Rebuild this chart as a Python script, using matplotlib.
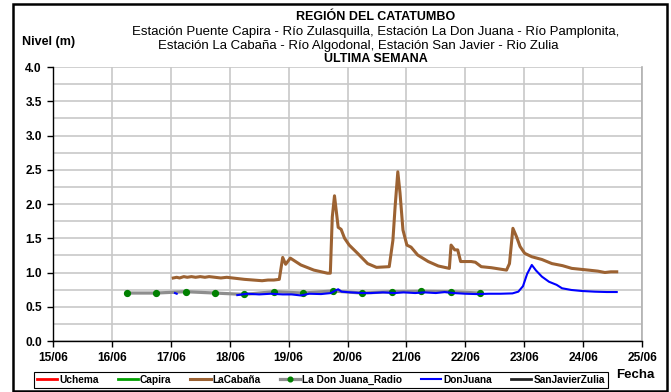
import numpy as np
import matplotlib
matplotlib.use("Agg")
import matplotlib.pyplot as plt
from matplotlib.patches import Rectangle

plt.rcParams['font.family'] = ['Liberation Sans', 'DejaVu Sans']

# Reference start of the week shown on the axis
BASE = np.datetime64('2024-06-15T00:00')

# Hours since 15/06 00:00 and level readings (m)
cabana_hours = [49, 50.4, 51.6, 53.3, 54.7, 56.4, 58.1, 60, 61.9, 63.6, 66, 68.4,
                70.8, 73.2, 75.6, 78, 81.6, 85.2, 87.6, 90, 92.2, 93.6, 94.8, 96.7,
                101, 106.3, 111.8, 113, 113.8, 114.7, 116.2, 117.4, 118.8, 120.7,
                124.1, 128.2, 131.8, 137, 138.5, 139.4, 140.5, 141.4, 142.6, 144.2,
                145.9, 148.6, 152.9, 157, 161.5, 162.2, 163.7, 164.9, 166.1, 170.4,
                172.1, 174.5, 178.6, 184.8, 186, 187.4, 188.9, 190.3, 192.2, 195.1,
                199.2, 203.3, 207.6, 211.4, 218.2, 222, 224.9, 227.3, 229.7]
cabana_level = [0.92, 0.93, 0.92, 0.94, 0.93, 0.94, 0.93, 0.94, 0.93, 0.94, 0.93, 0.92,
                0.93, 0.92, 0.91, 0.90, 0.89, 0.88, 0.89, 0.89, 0.90, 1.22, 1.12, 1.21,
                1.11, 1.035, 0.99, 0.99, 1.81, 2.12, 1.66, 1.63, 1.50, 1.40,
                1.28, 1.13, 1.075, 1.085, 1.47, 1.96, 2.47, 2.16, 1.62, 1.40,
                1.37, 1.255, 1.16, 1.095, 1.06, 1.40, 1.33, 1.33, 1.16, 1.16,
                1.15, 1.085, 1.07, 1.035, 1.13, 1.645, 1.52, 1.38, 1.28, 1.23,
                1.19, 1.13, 1.10, 1.06, 1.035, 1.02, 1.00, 1.01, 1.01]

donjuana_hours = [49.7, 50.4, np.nan, 75.1, 79.2, 84, 88.8, 93.6, 97.2, 101, 104.4,
                  109.2, 113.3, 115.2, 116.2, 117.6, 121.2, 126, 129.6, 134.4, 139.2,
                  142.8, 147.6, 151.2, 156, 159.6, 163.2, 168, 172.8, 177.6, 182.4,
                  187.2, 189.6, 191.5, 193.2, 195.1, 196.8, 199.2, 202.1, 205.2,
                  207.4, 211.2, 215.5, 220.8, 225.6, 229.7]
donjuana_level = [0.70, 0.69, np.nan, 0.67, 0.69, 0.68, 0.69, 0.68, 0.68, 0.665, 0.69,
                  0.685, 0.70, 0.74, 0.755, 0.72, 0.71, 0.70, 0.70, 0.71, 0.70,
                  0.71, 0.70, 0.71, 0.70, 0.715, 0.70, 0.69, 0.685, 0.69, 0.69,
                  0.695, 0.72, 0.80, 0.98, 1.11, 1.03, 0.94, 0.865, 0.82,
                  0.77, 0.745, 0.73, 0.72, 0.715, 0.715]

radio_hours = [30, 42, 54, 66, 78, 90, 102, 114, 126, 138, 150, 162, 174]
radio_level = [0.70, 0.70, 0.72, 0.70, 0.68, 0.72, 0.70, 0.73, 0.70, 0.72, 0.725, 0.72, 0.70]

# Stations without readings this week
uchema_hours, uchema_level = [], []
capira_hours, capira_level = [], []
sanjavier_hours, sanjavier_level = [], []

day_ticks = ['15/06', '16/06', '17/06', '18/06', '19/06', '20/06',
             '21/06', '22/06', '23/06', '24/06', '25/06']


def to_dates(hours):
    out = []
    for h in hours:
        if isinstance(h, float) and np.isnan(h):
            out.append(np.datetime64('NaT'))
        else:
            out.append(BASE + np.timedelta64(int(round(h * 60)), 'm'))
    return np.array(out, dtype='datetime64[m]')


W, H = 671, 392
fig = plt.figure(figsize=(W / 100, H / 100), dpi=100)
ax = fig.add_axes([53 / W, 1 - 341 / H, (642 - 53) / W, (341 - 67) / H])

brown = '#9C6232'
grey = '#8E8E8E'
green_dot = '#008000'

l_uch, = ax.plot(to_dates(uchema_hours), uchema_level, color='#FF0000', lw=2, label='Uchema')
l_cap, = ax.plot(to_dates(capira_hours), capira_level, color='#00A000', lw=2, label='Capira')
l_cab, = ax.plot(to_dates(cabana_hours), cabana_level, color=brown, lw=2.2,
                 solid_joinstyle='round', label='LaCabaña', zorder=4)
l_rad, = ax.plot(to_dates(radio_hours), radio_level, color=grey, lw=2.3, marker='o',
                 markersize=4.2, markerfacecolor=green_dot, markeredgecolor=green_dot,
                 label='La Don Juana_Radio', zorder=3)
l_dj, = ax.plot(to_dates(donjuana_hours), donjuana_level, color='#0000FF', lw=1.5,
                label='DonJuana', zorder=5)
l_sj, = ax.plot(to_dates(sanjavier_hours), sanjavier_level, color='#222222', lw=2,
                label='SanJavierZulia')

# Axes ranges and ticks
tick_dates = [BASE + np.timedelta64(24 * i, 'h') for i in range(len(day_ticks))]
ax.set_xlim(tick_dates[0], tick_dates[-1])
ax.set_xticks(tick_dates)
ax.set_xticklabels(day_ticks)
ax.set_ylim(0, 4)
ax.set_yticks(np.arange(0, 4.01, 0.5))
ax.set_yticklabels([f'{v:.1f}' for v in np.arange(0, 4.01, 0.5)])
ax.set_yticks(np.arange(0, 4.01, 0.25), minor=True)

for lbl in ax.get_xticklabels() + ax.get_yticklabels():
    lbl.set_fontweight('bold')
    lbl.set_fontsize(8.6)
ax.tick_params(axis='both', which='major', length=4, width=1, color='black', pad=4)
ax.tick_params(axis='y', which='minor', length=0)

ax.grid(True, which='major', axis='x', color='#C8C8C8', lw=1.2)
ax.grid(True, which='both', axis='y', color='#C8C8C8', lw=1.2)
ax.set_axisbelow(True)

ax.spines['top'].set_visible(False)
ax.spines['right'].set_color('#B0B0B0')
ax.spines['right'].set_linewidth(1.2)
ax.spines['left'].set_color('black')
ax.spines['bottom'].set_color('black')
ax.spines['left'].set_linewidth(1)
ax.spines['bottom'].set_linewidth(1)

# Titles and axis captions
cx = 376 / W
fig.text(cx, 1 - 17 / H, 'REGIÓN DEL CATATUMBO', ha='center', va='center',
         fontsize=9, fontweight='bold')
fig.text(cx, 1 - 31.5 / H,
         'Estación Puente Capira - Río Zulasquilla, Estación La Don Juana - Río Pamplonita,',
         ha='center', va='center', fontsize=9.5)
fig.text(358 / W, 1 - 45.5 / H,
         'Estación La Cabaña - Río Algodonal, Estación San Javier - Rio Zulia',
         ha='center', va='center', fontsize=9.5)
fig.text(cx, 1 - 59 / H, 'ULTIMA SEMANA', ha='center', va='center',
         fontsize=9, fontweight='bold')
fig.text(22 / W, 1 - 42 / H, 'Nivel (m)', ha='left', va='center',
         fontsize=9, fontweight='bold')
fig.text(635 / W, 1 - 375 / H, 'Fecha', ha='center', va='center',
         fontsize=9.5, fontweight='bold')

# Legend along the bottom
leg = fig.legend(handles=[l_uch, l_cap, l_cab, l_rad, l_dj, l_sj],
                 loc='center', ncol=6, mode='expand',
                 bbox_to_anchor=(34 / W, 1 - 390 / H, (608 - 34) / W, 20 / H),
                 frameon=True, fancybox=False, edgecolor='black', framealpha=1,
                 prop={'weight': 'bold', 'size': 7.3}, handlelength=2.0,
                 handletextpad=0.2, borderpad=0.3, borderaxespad=0,
                 columnspacing=0.6, markerscale=0.8)
leg.get_frame().set_linewidth(0.8)

# Outer frame around the chart
fig.patches.append(Rectangle((13 / W, 1 / H), (667 - 13) / W, 387.5 / H,
                             transform=fig.transFigure, fill=False,
                             edgecolor='black', lw=1.8))

fig.savefig('out.png', dpi=100)
